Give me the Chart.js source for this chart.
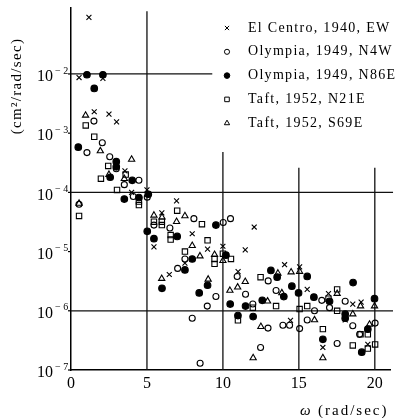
<!DOCTYPE html>
<html>
<head>
<meta charset="utf-8">
<script src="https://cdn.jsdelivr.net/npm/chart.js@4/dist/chart.umd.min.js"></script>
<style>
  body { margin: 0; background: #fff; }
  #wrap { width: 400px; height: 418px; }
</style>
</head>
<body>
<div id="wrap"><canvas id="spectrum" width="400" height="418"></canvas></div>
<script>
// omega (rad/sec) and spectral values (cm^2/rad/sec)
const elCentroX = [1.18, 0.53, 2.1, 1.53, 2.5, 3.0, 3.55, 3.99, 5.0, 6.95, 12.06, 5.46, 7.98, 8.99, 7.5, 6.47, 10.0, 11.47, 11.0, 14.06, 15.05, 15.55, 16.95, 18.55, 19.1, 18.05, 14.45, 16.58, 19.54, 5.98];
const elCentroY = [9e-2, 8.7e-3, 8.4e-3, 2.3e-3, 2.1e-3, 1.55e-3, 2.3e-4, 1.0e-4, 1.1e-4, 7.2e-5, 2.6e-5, 1.2e-5, 2.0e-5, 1.1e-5, 6.4e-6, 4.1e-6, 1.23e-5, 1.07e-5, 4.6e-6, 6.0e-6, 5.5e-6, 2.3e-6, 1.95e-6, 1.3e-6, 1.4e-6, 7.0e-7, 6.9e-7, 2.4e-7, 2.7e-7, 4.5e-5];

const olympiaN4WX = [1.51, 2.06, 1.05, 2.55, 2.98, 3.51, 4.47, 4.1, 5.02, 0.53, 5.46, 6.51, 8.09, 10.02, 10.5, 7.5, 7.02, 10.94, 11.49, 9.54, 8.97, 11.97, 12.98, 13.5, 7.98, 12.97, 12.48, 8.5, 13.95, 14.39, 15.05, 15.55, 16.03, 16.51, 17.02, 18.05, 18.55, 17.52, 19.0, 20.02];
const olympiaN4WY = [1.6e-3, 6.9e-4, 4.7e-4, 4.0e-4, 2.5e-4, 1.35e-4, 1.6e-4, 8.5e-5, 8.3e-5, 6.3e-5, 2.8e-5, 2.5e-5, 3.6e-5, 3.1e-5, 3.6e-5, 7.5e-6, 5.2e-6, 3.8e-6, 1.9e-6, 1.74e-6, 1.2e-6, 1.3e-6, 3.2e-6, 2.2e-6, 7.5e-7, 5.1e-7, 2.4e-7, 1.3e-7, 5.7e-7, 5.7e-7, 5.0e-7, 7.0e-7, 1.0e-6, 1.5e-6, 1.13e-6, 1.45e-6, 5.6e-7, 2.8e-7, 4.0e-7, 6.2e-7];

const olympiaN86EX = [1.05, 2.1, 1.53, 0.48, 2.98, 2.98, 2.58, 4.03, 3.51, 4.47, 5.09, 5.02, 5.46, 6.99, 9.54, 10.2, 7.98, 7.5, 5.99, 8.99, 8.44, 10.48, 11.49, 12.59, 13.16, 13.57, 10.99, 11.99, 14.01, 14.54, 14.98, 15.55, 15.99, 17.02, 18.57, 18.05, 18.05, 16.58, 19.14, 19.54, 19.98];
const olympiaN86EY = [9.7e-3, 9.7e-3, 5.7e-3, 5.8e-4, 3.3e-4, 2.7e-4, 1.8e-4, 1.6e-4, 7.7e-5, 8.2e-5, 9.3e-5, 2.2e-5, 1.65e-5, 1.8e-5, 2.8e-5, 8.7e-6, 7.5e-6, 4.9e-6, 2.4e-6, 2.7e-6, 2.0e-6, 1.3e-6, 1.2e-6, 1.5e-6, 4.8e-6, 3.7e-6, 8.3e-7, 8.0e-7, 1.74e-6, 2.6e-6, 2.0e-6, 3.8e-6, 1.7e-6, 1.45e-6, 3.0e-6, 8.8e-7, 7.5e-7, 3.3e-7, 2.0e-7, 4.9e-7, 1.6e-6];

const taftN21EX = [0.97, 1.53, 2.45, 3.6, 1.97, 3.03, 4.47, 4.47, 0.53, 6.99, 8.62, 5.46, 5.98, 5.98, 6.56, 6.56, 8.99, 7.5, 9.45, 9.45, 10.0, 10.53, 11.97, 10.99, 12.48, 13.5, 15.05, 15.55, 16.95, 17.52, 17.52, 16.58, 18.55, 19.06, 19.54, 19.54, 20.02];
const taftN21EY = [1.35e-3, 8.7e-4, 2.8e-4, 2.0e-4, 1.7e-4, 1.1e-4, 7.0e-5, 6.1e-5, 4.0e-5, 4.9e-5, 2.9e-5, 3.2e-5, 3.2e-5, 2.8e-5, 1.9e-5, 1.6e-5, 1.55e-5, 1.0e-5, 7.5e-6, 6.2e-6, 9.2e-6, 7.5e-6, 1.13e-6, 6.9e-7, 3.7e-6, 1.2e-6, 1.07e-6, 1.2e-6, 1.6e-6, 2.3e-6, 1.0e-6, 4.9e-7, 2.6e-7, 4.0e-7, 4.0e-7, 2.3e-7, 2.7e-7];

const taftS69EX = [0.96, 1.93, 3.99, 2.5, 3.51, 5.46, 5.99, 6.95, 7.5, 7.98, 8.49, 9.45, 10.0, 5.97, 9.03, 11.47, 10.97, 10.46, 12.94, 12.5, 11.99, 13.62, 13.88, 14.49, 15.05, 16.03, 17.52, 18.55, 19.06, 19.65, 19.98, 16.58, 0.53];
const taftS69EY = [2.0e-3, 5.0e-4, 3.6e-4, 2.0e-4, 1.7e-4, 4.1e-5, 3.8e-5, 3.2e-5, 4.0e-5, 1.26e-5, 8.4e-6, 8.9e-6, 7.0e-6, 3.5e-6, 3.4e-6, 3.1e-6, 2.5e-6, 2.2e-6, 1.45e-6, 5.4e-7, 1.6e-7, 4.3e-6, 2.0e-6, 4.5e-6, 4.6e-6, 7.0e-7, 1.95e-6, 8.8e-7, 1.2e-6, 5.9e-7, 1.2e-6, 1.6e-7, 6.5e-5];

const seriesNames = ['El Centro, 1940, EW', 'Olympia, 1949, N4W', 'Olympia, 1949, N86E', 'Taft, 1952, N21E', 'Taft, 1952, S69E'];
const xTicks = [0, 5, 10, 15, 20];
const yExponents = [-2, -3, -4, -5, -6, -7];

// partial reference lines drawn on the plot: [x0, y0, x1, y1] in data units
const refLines = [
    [5, 1e-7, 5, 0.115],
    [10, 1e-7, 10, 4.8e-4],
    [15, 1e-7, 15, 2.6e-4],
    [20, 1e-7, 20, 2.6e-4],
    [0, 1e-2, 9.3, 1e-2],
    [0, 1e-4, 21.2, 1e-4],
    [0, 1e-6, 21.2, 1e-6]
];

const SERIF = '"Liberation Serif", "DejaVu Serif", serif';

function zip(xs, ys) {
    return xs.map((x, i) => ({ x: x, y: ys[i] }));
}

function makeSet(label, xs, ys, style, filled, radius) {
    return {
        label: label,
        data: zip(xs, ys),
        pointStyle: style,
        pointRadius: radius,
        pointBorderWidth: 1.1,
        borderColor: '#000',
        backgroundColor: filled ? '#000' : 'rgba(0,0,0,0)',
        pointBackgroundColor: filled ? '#000' : 'rgba(0,0,0,0)'
    };
}

const overlay = {
    id: 'overlay',
    beforeDatasetsDraw(chart) {
        const { ctx, scales: { x, y } } = chart;
        ctx.save();
        ctx.strokeStyle = '#111';
        ctx.lineWidth = 1.3;
        refLines.forEach(s => {
            ctx.beginPath();
            ctx.moveTo(x.getPixelForValue(s[0]), y.getPixelForValue(s[1]));
            ctx.lineTo(x.getPixelForValue(s[2]), y.getPixelForValue(s[3]));
            ctx.stroke();
        });
        ctx.restore();
    },
    afterDraw(chart) {
        const { ctx, scales: { x, y }, chartArea } = chart;
        ctx.save();
        ctx.fillStyle = '#000';
        ctx.strokeStyle = '#000';

        // y tick marks and 10^n labels
        yExponents.forEach(e => {
            const py = y.getPixelForValue(Math.pow(10, e));
            ctx.lineWidth = 1.2;
            ctx.beginPath();
            ctx.moveTo(chartArea.left - 3, py);
            ctx.lineTo(chartArea.left, py);
            ctx.stroke();
            ctx.font = '16px ' + SERIF;
            ctx.textAlign = 'right';
            ctx.textBaseline = 'middle';
            ctx.fillText('10', 53, py + 3);
            ctx.font = '10px ' + SERIF;
            ctx.textAlign = 'left';
            ctx.fillText('\u2212 ' + (-e), 55, py - 3);
        });

        // x tick labels
        ctx.font = '16px ' + SERIF;
        ctx.textAlign = 'center';
        ctx.textBaseline = 'middle';
        xTicks.forEach(v => {
            ctx.fillText(String(v), x.getPixelForValue(v), 384);
        });

        // axis titles
        ctx.font = 'italic 15px ' + SERIF;
        ctx.letterSpacing = '2px';
        ctx.textAlign = 'left';
        ctx.fillText('\u03C9', 300, 411);
        ctx.font = '15px ' + SERIF;
        ctx.fillText('(rad/sec)', 318, 411);

        ctx.save();
        ctx.letterSpacing = '1.3px';
        ctx.translate(17, 86);
        ctx.rotate(-Math.PI / 2);
        ctx.textAlign = 'center';
        ctx.fillText('(cm\u00B2/rad/sec)', 0, 0);
        ctx.restore();

        // legend
        ctx.font = '14px ' + SERIF;
        ctx.letterSpacing = '1.3px';
        chart.data.datasets.forEach((ds, i) => {
            const ly = 28 + i * 23.8;
            ctx.fillStyle = ds.pointBackgroundColor;
            ctx.strokeStyle = ds.borderColor;
            ctx.lineWidth = 1;
            Chart.helpers.drawPoint(ctx, {
                pointStyle: ds.pointStyle,
                radius: ds.pointRadius * 0.85,
                borderWidth: 1,
                rotation: 0
            }, 227, ly);
            ctx.fillStyle = '#000';
            ctx.textAlign = 'left';
            ctx.textBaseline = 'middle';
            ctx.fillText(ds.label, 248, ly);
        });
        ctx.restore();
    }
};

const chart = new Chart(document.getElementById('spectrum').getContext('2d'), {
    type: 'scatter',
    data: {
        datasets: [
            makeSet(seriesNames[0], elCentroX, elCentroY, 'crossRot', false, 3.5),
            makeSet(seriesNames[1], olympiaN4WX, olympiaN4WY, 'circle', false, 3),
            makeSet(seriesNames[2], olympiaN86EX, olympiaN86EY, 'circle', true, 3.3),
            makeSet(seriesNames[3], taftN21EX, taftN21EY, 'rect', false, 3.8),
            makeSet(seriesNames[4], taftS69EX, taftS69EY, 'triangle', false, 3.6)
        ]
    },
    options: {
        responsive: false,
        devicePixelRatio: 1,
        animation: false,
        layout: { padding: { left: 63, right: 10, top: 8, bottom: 40 } },
        scales: {
            x: {
                type: 'linear',
                min: 0,
                max: 21,
                grid: { display: false },
                border: { display: true, color: '#000', width: 1.5 },
                ticks: { display: false }
            },
            y: {
                type: 'logarithmic',
                min: 1e-7,
                max: 0.13,
                grid: { display: false },
                border: { display: true, color: '#000', width: 1.5 },
                ticks: { display: false }
            }
        },
        plugins: {
            legend: { display: false },
            tooltip: { enabled: false }
        }
    },
    plugins: [overlay]
});
</script>
</body>
</html>
